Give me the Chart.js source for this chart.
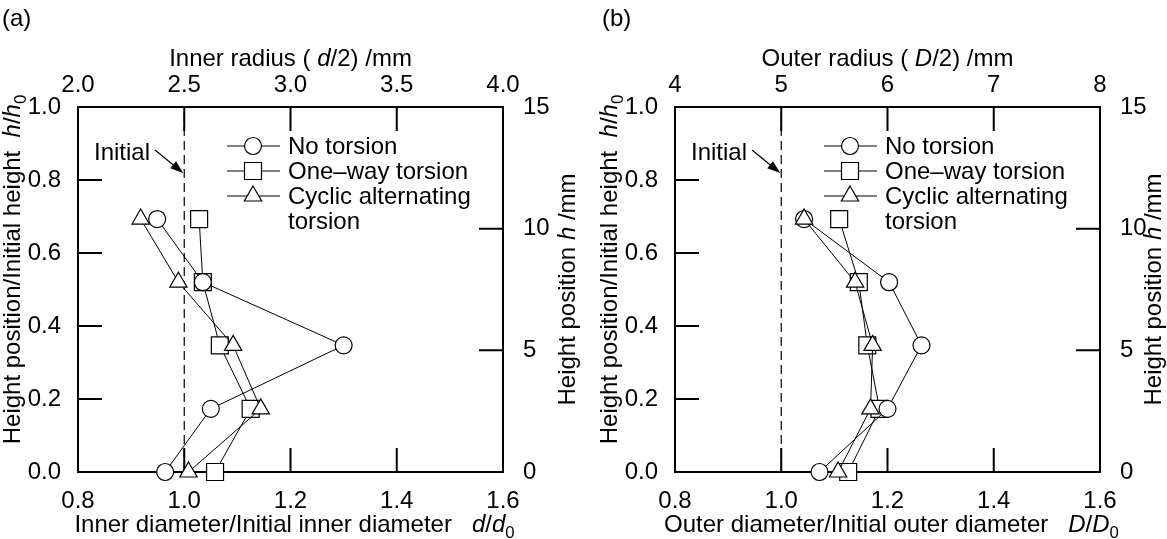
<!DOCTYPE html>
<html>
<head>
<meta charset="utf-8">
<script src="https://cdn.jsdelivr.net/npm/chart.js@4.4.0/dist/chart.umd.min.js"></script>
<style>
  html, body { margin: 0; padding: 0; background: #fff; }
  #wrap { position: relative; width: 1167px; height: 539px; }
  canvas { position: absolute; top: 0; }
  #chartA { left: 0; }
  #chartB { left: 590px; }
</style>
</head>
<body>
<div id="wrap">
  <canvas id="chartA" width="590" height="539" style="width:590px;height:539px"></canvas>
  <canvas id="chartB" width="577" height="539" style="width:577px;height:539px"></canvas>
</div>
<script>
// heights of the measured sections, h/h0
const heightRatio = [0, 0.173, 0.347, 0.52, 0.693];

// (a) inner diameter ratio d/d0
const innerNoTorsion = [0.964, 1.05, 1.3, 1.035, 0.949];
const innerOneWay = [1.058, 1.125, 1.067, 1.035, 1.028];
const innerCyclic = [1.008, 1.144, 1.092, 0.989, 0.918];

// (b) outer diameter ratio D/D0
const outerNoTorsion = [1.072, 1.2, 1.264, 1.203, 1.043];
const outerOneWay = [1.126, 1.185, 1.162, 1.146, 1.109];
const outerCyclic = [1.107, 1.168, 1.172, 1.139, 1.043];

// tick labels
const ratioTicks = [0.8, 1.0, 1.2, 1.4, 1.6];
const heightRatioTicks = [0, 0.2, 0.4, 0.6, 0.8, 1.0];
const heightMmTicks = [0, 5, 10, 15];
const innerRadiusTicks = [2.0, 2.5, 3.0, 3.5, 4.0];
const outerRadiusTicks = [4, 5, 6, 7, 8];

const legendNames = ["No torsion", "One\u2013way torsion", "Cyclic alternating", "torsion"];

const FONT = '"Liberation Sans", Arial, Helvetica, sans-serif';
const FS = 24;

const richText = (ctx, parts, x, y, align) => {
  const fontOf = (s) =>
    (s === "i" ? "italic " : "") + (s === "sub" ? FS * 0.7 : FS) + "px " + FONT;
  let total = 0;
  for (const [t, s] of parts) {
    ctx.font = fontOf(s);
    total += ctx.measureText(t).width;
  }
  let cx = align === "center" ? x - total / 2 : x;
  for (const [t, s] of parts) {
    ctx.font = fontOf(s);
    ctx.fillText(t, cx, s === "sub" ? y + FS * 0.25 : y);
    cx += ctx.measureText(t).width;
  }
};

const marker = (ctx, style, x, y) => {
  ctx.beginPath();
  if (style === "circle") {
    ctx.arc(x, y, 8.5, 0, Math.PI * 2);
  } else if (style === "rect") {
    ctx.rect(x - 8.5, y - 8.5, 17, 17);
  } else {
    ctx.moveTo(x, y - 10);
    ctx.lineTo(x + 8.66, y + 5);
    ctx.lineTo(x - 8.66, y + 5);
    ctx.closePath();
  }
  ctx.fillStyle = "#fff";
  ctx.fill();
  ctx.lineWidth = 1.2;
  ctx.strokeStyle = "#000";
  ctx.stroke();
};

const framePlugin = {
  id: "frame",
  beforeDatasetsDraw(chart, args, p) {
    const ctx = chart.ctx;
    const a = chart.chartArea;
    ctx.save();
    ctx.strokeStyle = "#000";
    ctx.lineWidth = 2;
    ctx.strokeRect(a.left, a.top, a.right - a.left, a.bottom - a.top);
    // inward ticks
    const TL = 24;
    ctx.beginPath();
    for (const v of ratioTicks) {
      const x = chart.scales.x.getPixelForValue(v);
      ctx.moveTo(x, a.bottom);
      ctx.lineTo(x, a.bottom - TL);
    }
    for (const v of p.topTicks) {
      const x = chart.scales.xTop.getPixelForValue(v);
      ctx.moveTo(x, a.top);
      ctx.lineTo(x, a.top + TL);
    }
    for (const v of heightRatioTicks) {
      const y = chart.scales.y.getPixelForValue(v);
      ctx.moveTo(a.left, y);
      ctx.lineTo(a.left + TL, y);
    }
    for (const v of heightMmTicks) {
      const y = chart.scales.yRight.getPixelForValue(v);
      ctx.moveTo(a.right, y);
      ctx.lineTo(a.right - TL, y);
    }
    ctx.stroke();
    ctx.restore();
  },
  afterDatasetsDraw(chart, args, p) {
    const ctx = chart.ctx;
    const a = chart.chartArea;
    ctx.save();
    ctx.fillStyle = "#000";
    ctx.textBaseline = "alphabetic";

    // panel tag
    ctx.textAlign = "left";
    ctx.font = FS + "px " + FONT;
    ctx.fillText(p.tag, p.tagX, 26);

    // axis titles
    richText(ctx, p.topTitle, (a.left + a.right) / 2, 66, "center");
    richText(ctx, p.bottomTitle, (a.left + a.right) / 2 + 4, 532, "center");

    ctx.save();
    ctx.translate(a.left - 58, (a.top + a.bottom) / 2 - 20);
    ctx.rotate(-Math.PI / 2);
    richText(ctx, [["Height position/Initial height  ", ""], ["h", "i"], ["/", ""], ["h", "i"], ["0", "sub"]], 0, 0, "center");
    ctx.restore();

    ctx.save();
    ctx.translate(a.right + p.rightTitleOff, (a.top + a.bottom) / 2);
    ctx.rotate(-Math.PI / 2);
    richText(ctx, [["Height position ", ""], ["h", "i"], [" /mm", ""]], 0, 0, "center");
    ctx.restore();

    // legend
    const styles = ["circle", "rect", "triangle"];
    ctx.textBaseline = "middle";
    for (let i = 0; i < legendNames.length; i++) {
      const y = a.top + 39 + i * 25;
      if (i < 3) {
        ctx.beginPath();
        ctx.moveTo(a.left + 149, y);
        ctx.lineTo(a.left + 202, y);
        ctx.lineWidth = 1.2;
        ctx.strokeStyle = "#000";
        ctx.stroke();
        marker(ctx, styles[i], a.left + 175, y);
      }
      ctx.fillStyle = "#000";
      ctx.font = FS + "px " + FONT;
      ctx.textAlign = "left";
      ctx.fillText(legendNames[i], a.left + 210, y + 1);
    }

    // "Initial" label with arrow
    ctx.textAlign = "right";
    ctx.fillText("Initial", a.left + 72, a.top + 46);
    const x1 = chart.scales.x.getPixelForValue(1.0) - 1;
    const y1 = a.top + 66;
    const x0 = a.left + 77;
    const y0 = a.top + 43;
    const ang = Math.atan2(y1 - y0, x1 - x0);
    ctx.beginPath();
    ctx.moveTo(x0, y0);
    ctx.lineTo(x1 - 10 * Math.cos(ang), y1 - 10 * Math.sin(ang));
    ctx.lineWidth = 1.2;
    ctx.stroke();
    ctx.beginPath();
    ctx.moveTo(x1, y1);
    ctx.lineTo(x1 - 13 * Math.cos(ang) + 4.5 * Math.sin(ang), y1 - 13 * Math.sin(ang) - 4.5 * Math.cos(ang));
    ctx.lineTo(x1 - 13 * Math.cos(ang) - 4.5 * Math.sin(ang), y1 - 13 * Math.sin(ang) + 4.5 * Math.cos(ang));
    ctx.closePath();
    ctx.fill();
    ctx.restore();
  },
};

const series = (label, xs, style, order) => ({
  label: label,
  data: xs.map((v, i) => ({ x: v, y: heightRatio[i] })),
  showLine: true,
  borderColor: "#000",
  borderWidth: 1,
  backgroundColor: "#fff",
  pointStyle: style,
  pointRadius: style === "rect" ? 12 : style === "triangle" ? 10 : 8.5,
  pointBorderWidth: 1.2,
  pointBackgroundColor: "#fff",
  pointBorderColor: "#000",
  clip: false,
  order: order,
});

const tickFont = { family: FONT, size: FS, lineHeight: 1 };
const hideLines = { grid: { display: false }, border: { display: false } };

const makeChart = (id, p) => {
  const W = document.getElementById(id).width;
  return new Chart(document.getElementById(id), {
    type: "scatter",
    data: {
      datasets: [
        series(legendNames[0], p.noTorsion, "circle", 2),
        series(legendNames[1], p.oneWay, "rect", 3),
        series(legendNames[2], p.cyclic, "triangle", 1),
        {
          label: "Initial",
          data: [{ x: 1.0, y: 0 }, { x: 1.0, y: 1 }],
          showLine: true,
          borderColor: "#000",
          borderWidth: 1.2,
          borderDash: [9, 5],
          pointRadius: 0,
          order: 5,
        },
      ],
    },
    options: {
      responsive: false,
      animation: false,
      events: [],
      layout: { padding: 0 },
      plugins: { legend: { display: false }, tooltip: { enabled: false }, frame: p },
      scales: {
        x: {
          type: "linear", position: "bottom", min: 0.8, max: 1.6, ...hideLines,
          afterBuildTicks: (s) => { s.ticks = ratioTicks.map((v) => ({ value: v })); },
          ticks: { font: tickFont, color: "#000", padding: 9, maxRotation: 0, autoSkip: false, callback: (v) => v.toFixed(1) },
          afterFit: (s) => { s.height = 539 - 472; },
        },
        xTop: {
          type: "linear", position: "top", min: p.topTicks[0], max: p.topTicks[p.topTicks.length - 1], ...hideLines,
          afterBuildTicks: (s) => { s.ticks = p.topTicks.map((v) => ({ value: v })); },
          ticks: { font: tickFont, color: "#000", padding: 2, maxRotation: 0, autoSkip: false, callback: p.topFmt },
          afterFit: (s) => { s.height = 107; },
        },
        y: {
          type: "linear", position: "left", min: 0, max: 1, ...hideLines,
          afterBuildTicks: (s) => { s.ticks = heightRatioTicks.map((v) => ({ value: v })); },
          ticks: { font: tickFont, color: "#000", padding: 9, autoSkip: false, callback: (v) => v.toFixed(1) },
          afterFit: (s) => { s.width = p.left; },
        },
        yRight: {
          type: "linear", position: "right", min: 0, max: 15, ...hideLines,
          afterBuildTicks: (s) => { s.ticks = heightMmTicks.map((v) => ({ value: v })); },
          ticks: { font: tickFont, color: "#000", padding: 12, autoSkip: false, callback: (v) => String(v) },
          afterFit: (s) => { s.width = W - p.right; },
        },
      },
    },
    plugins: [framePlugin],
  });
};

makeChart("chartA", {
  tag: "(a)", tagX: 2, left: 78, right: 503, rightTitleOff: 72,
  noTorsion: innerNoTorsion, oneWay: innerOneWay, cyclic: innerCyclic,
  topTicks: innerRadiusTicks, topFmt: (v) => v.toFixed(1),
  topTitle: [["Inner radius ( ", ""], ["d", "i"], ["/2) /mm", ""]],
  bottomTitle: [["Inner diameter/Initial inner diameter   ", ""], ["d", "i"], ["/", ""], ["d", "i"], ["0", "sub"]],
});

makeChart("chartB", {
  tag: "(b)", tagX: 12, left: 85, right: 510, rightTitleOff: 61,
  noTorsion: outerNoTorsion, oneWay: outerOneWay, cyclic: outerCyclic,
  topTicks: outerRadiusTicks, topFmt: (v) => String(v),
  topTitle: [["Outer radius ( ", ""], ["D", "i"], ["/2) /mm", ""]],
  bottomTitle: [["Outer diameter/Initial outer diameter   ", ""], ["D", "i"], ["/", ""], ["D", "i"], ["0", "sub"]],
});
</script>
</body>
</html>
